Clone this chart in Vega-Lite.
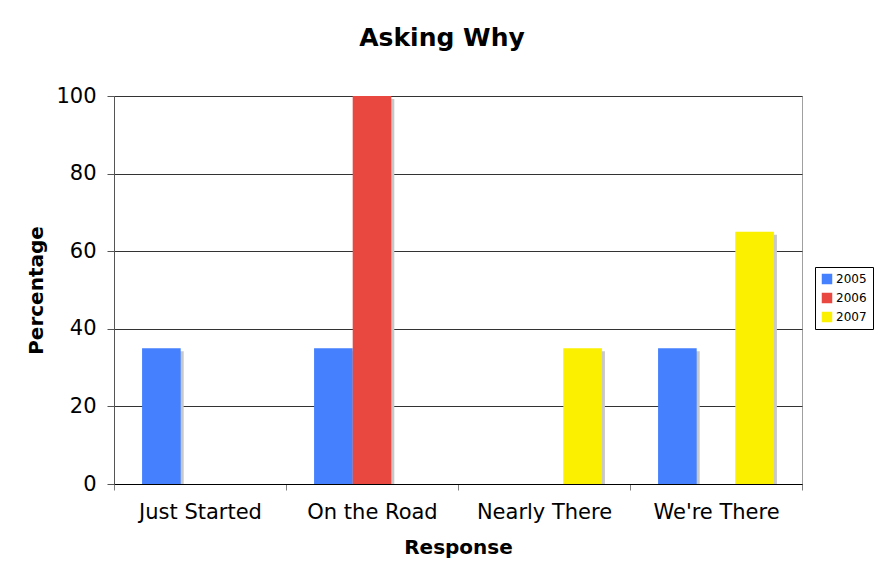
{
  "$schema": "https://vega.github.io/schema/vega-lite/v6.json",
  "width": 688,
  "height": 388,
  "autosize": {"type": "none"},
  "padding": {"left": 114, "top": 96, "right": 74, "bottom": 89},
  "background": "white",
  "title": {
    "text": "Asking Why",
    "font": "DejaVu Sans",
    "fontSize": 25,
    "fontWeight": "bold",
    "color": "black",
    "anchor": "middle",
    "dx": -16,
    "offset": 34
  },
  "data": {
    "values": [
      {"Response": "Just Started", "Year": "2005", "Percentage": 35},
      {"Response": "On the Road", "Year": "2005", "Percentage": 35},
      {"Response": "On the Road", "Year": "2006", "Percentage": 100},
      {"Response": "Nearly There", "Year": "2007", "Percentage": 35},
      {"Response": "We're There", "Year": "2005", "Percentage": 35},
      {"Response": "We're There", "Year": "2007", "Percentage": 65}
    ]
  },
  "encoding": {
    "x": {
      "field": "Response",
      "type": "nominal",
      "sort": ["Just Started", "On the Road", "Nearly There", "We're There"],
      "scale": {"paddingInner": 0, "paddingOuter": 0},
      "axis": {
        "title": "Response",
        "labelAngle": 0,
        "tickBand": "extent",
        "tickSize": 6,
        "tickColor": "#808080",
        "domainColor": "black",
        "labelPadding": 11,
        "titlePadding": 15
      }
    },
    "y": {
      "field": "Percentage",
      "type": "quantitative",
      "scale": {"domain": [0, 100]},
      "axis": {
        "title": "Percentage",
        "values": [0, 20, 40, 60, 80, 100],
        "tickSize": 7,
        "tickColor": "#555555",
        "domainColor": "#555555",
        "labelPadding": 11,
        "titlePadding": 9,
        "grid": true,
        "gridColor": "#333333"
      }
    }
  },
  "layer": [
    {
      "mark": {"type": "bar", "color": "#c8c8c8", "yOffset": 3, "clip": true},
      "encoding": {
        "xOffset": {
          "field": "Year",
          "type": "nominal",
          "scale": {"domain": ["2005", "2006", "2007"], "paddingInner": 0, "paddingOuter": 0.727, "range": [3, 175]}
        }
      }
    },
    {
      "mark": {"type": "bar"},
      "encoding": {
        "xOffset": {
          "field": "Year",
          "type": "nominal",
          "scale": {"domain": ["2005", "2006", "2007"], "paddingInner": 0, "paddingOuter": 0.727}
        },
        "color": {
          "field": "Year",
          "type": "nominal",
          "scale": {"domain": ["2005", "2006", "2007"], "range": ["#4580ff", "#e84840", "#faf000"]},
          "legend": {
            "title": null,
            "orient": "none",
            "legendX": 701,
            "legendY": 171,
            "strokeColor": "black",
            "padding": 6,
            "symbolType": "square",
            "symbolSize": 110,
            "symbolStrokeWidth": 0,
            "symbolOpacity": 1,
            "labelFont": "DejaVu Sans",
            "labelFontSize": 12,
            "labelColor": "black",
            "labelOffset": 3,
            "rowPadding": 7
          }
        }
      }
    }
  ],
  "resolve": {"scale": {"xOffset": "independent"}},
  "config": {
    "font": "DejaVu Sans",
    "view": {"stroke": "#a0a0a0", "strokeWidth": 1},
    "axis": {
      "labelFont": "DejaVu Sans",
      "labelFontSize": 21,
      "labelColor": "black",
      "titleFont": "DejaVu Sans",
      "titleFontSize": 20,
      "titleFontWeight": "bold",
      "titleColor": "black",
      "domainWidth": 1,
      "tickWidth": 1,
      "gridWidth": 1,
      "gridOpacity": 1
    }
  }
}
